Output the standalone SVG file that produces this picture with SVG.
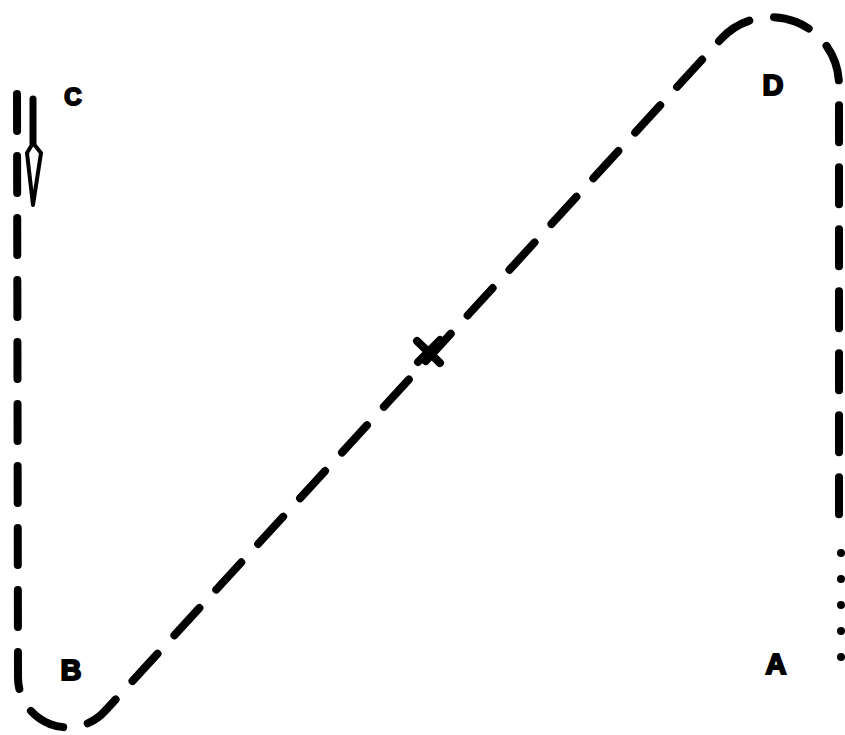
<svg xmlns="http://www.w3.org/2000/svg" width="845" height="735" viewBox="0 0 845 735">
<style>
.trk{fill:none;stroke:#000;stroke-width:8;stroke-linecap:round;stroke-linejoin:round}
.dash{stroke-dasharray:37 25}
.dot{stroke-dasharray:0 26}
.lbl{font-family:"Liberation Sans",Arial,sans-serif;font-weight:bold;fill:#000;stroke:#000;stroke-width:2;text-anchor:middle}
</style>
<rect width="845" height="735" fill="#fff"/>
<g id="connectors">
<path class="trk dash" d="M17,94 L18,677 A50,50 0 0 0 105,711 L721,39 A68,68 0 0 1 839,85 L839,537"/>
<path class="trk dot" d="M841,553 L841,658"/>
<path d="M33,99 L33,143" fill="none" stroke="#000" stroke-width="7" stroke-linecap="round"/>
<path d="M33,143 L41,153 L33,205 L27,153 Z" fill="#fff" stroke="#000" stroke-width="4" stroke-linejoin="round"/>
<path d="M417,341 L440,363 M418,362 L440,340" fill="none" stroke="#000" stroke-width="8" stroke-linecap="round"/>
</g>
<g id="node-C"><text class="lbl" x="73" y="105" font-size="24">C</text></g>
<g id="node-D"><text class="lbl" x="773" y="95" font-size="29">D</text></g>
<g id="node-B"><text class="lbl" x="71" y="680" font-size="29">B</text></g>
<g id="node-A"><text class="lbl" x="776" y="674" font-size="29">A</text></g>
</svg>
